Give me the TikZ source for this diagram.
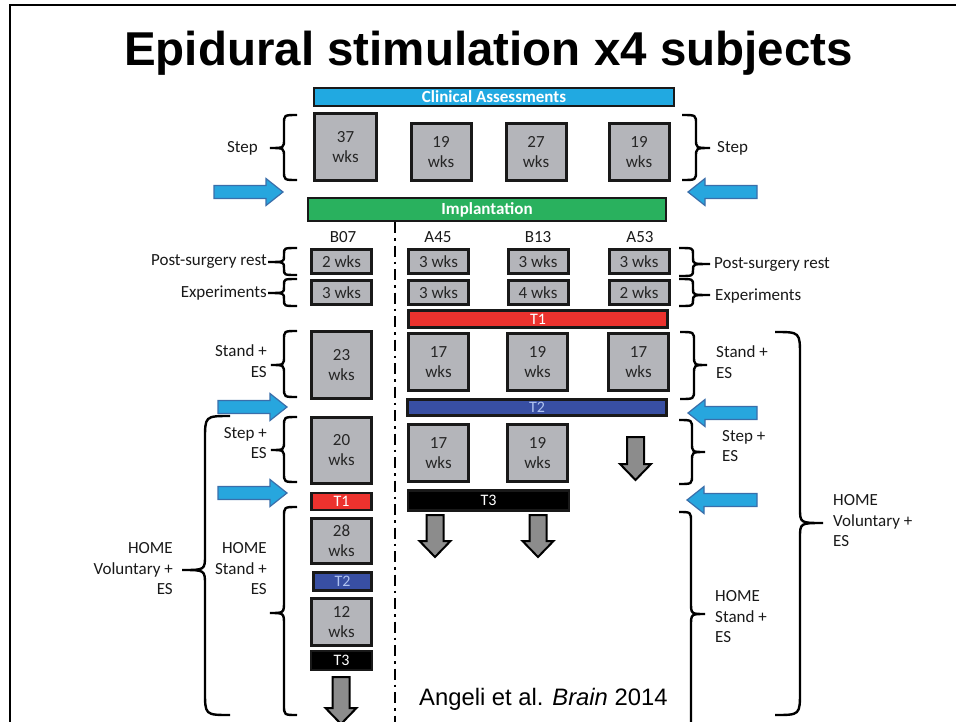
\documentclass[tikz,border=0pt]{standalone}
\usepackage{fontspec}
\setmainfont{Carlito}
\newfontfamily\titlefont{Liberation Sans}
\definecolor{cyanbar}{RGB}{33,169,225}
\definecolor{greenbar}{RGB}{41,177,94}
\definecolor{redbar}{RGB}{236,50,46}
\definecolor{bluebar}{RGB}{56,79,163}
\definecolor{boxgray}{RGB}{180,181,186}
\definecolor{arrfill}{RGB}{39,166,222}
\definecolor{arredge}{RGB}{58,110,170}
\definecolor{downgray}{RGB}{140,140,140}
\definecolor{tlight}{RGB}{175,195,240}
\newcommand{\mybrace}[8]{%
  \draw[bracestyle] (#1,#4) .. controls (#2,#4) .. (#2,{#4+#7}) -- (#2,{#5-#8})
    .. controls (#2,#5) .. (#3,#5) .. controls (#2,#5) .. (#2,{#5+#8})
    -- (#2,{#6-#7}) .. controls (#2,#6) .. (#1,#6);}
\newcommand{\bluer}[3]{%
  \draw[bluearrow] (#1,{#3-6.5}) -- ({#2-17},{#3-6.5}) -- ({#2-17},{#3-13.5}) -- (#2,#3)
    -- ({#2-17},{#3+13.5}) -- ({#2-17},{#3+6.5}) -- (#1,{#3+6.5}) -- cycle;}
\newcommand{\bluel}[3]{%
  \draw[bluearrow] (#2,{#3-6.5}) -- ({#1+17},{#3-6.5}) -- ({#1+17},{#3-13.5}) -- (#1,#3)
    -- ({#1+17},{#3+13.5}) -- ({#1+17},{#3+6.5}) -- (#2,{#3+6.5}) -- cycle;}
\newcommand{\grayd}[3]{%
  \draw[grayarrow] ({#1-8.5},#2) -- ({#1+8.5},#2) -- ({#1+8.5},{#3-16}) -- ({#1+15.5},{#3-16})
    -- (#1,#3) -- ({#1-15.5},{#3-16}) -- ({#1-8.5},{#3-16}) -- cycle;}
\begin{document}
\begin{tikzpicture}[x=1pt,y=-1pt,
  wk/.style={draw=black!90, line width=3pt, fill=boxgray, inner sep=0pt, align=center,
    minimum width=60, font=\fontsize{17}{20}\selectfont, text=black!85},
  bar/.style={draw=black!90, line width=2.2pt, inner sep=0pt, text=white,
    font=\fontsize{17}{18}\selectfont\bfseries},
  tbar/.style={draw=black!90, line width=2.2pt, inner sep=0pt,
    font=\fontsize{16}{18}\selectfont},
  lab/.style={inner sep=0pt, font=\fontsize{17}{20.5}\selectfont, text=black!90},
  bracestyle/.style={line width=2.4pt, black},
  bluearrow/.style={fill=arrfill, draw=arredge, line width=1.2pt, line join=miter},
  grayarrow/.style={fill=downgray, draw=black, line width=2pt, line join=miter}]
\useasboundingbox (0,0) rectangle (956,721);
% frame
\draw[line width=2pt] (10,730) -- (10,5) -- (960,5);
% title
\node[inner sep=0pt, anchor=base, font=\titlefont\fontsize{47.5}{50}\selectfont\bfseries] (title) at (488.5,65) {Epidural stimulation x4 subjects};
% bars
\node[bar, fill=cyanbar, minimum width=360, minimum height=18] (ca) at (494,97) {Clinical Assessments};
\node[bar, fill=greenbar, minimum width=358, minimum height=23] (imp) at (487,209.5) {Implantation};
% pre-implant step boxes
\node[wk, minimum width=62, minimum height=67] (s1) at (345.5,147) {37\\wks};
\node[wk, minimum height=57] (s2) at (441,152) {19\\wks};
\node[wk, minimum height=57] (s3) at (536,152) {27\\wks};
\node[wk, minimum height=57] (s4) at (639,152) {19\\wks};
% dash-dot separator
\coordinate (sepTop) at (395,222);
\coordinate (sepBot) at (395,725);
\draw[line width=2.5pt, dash pattern=on 11pt off 5pt on 2.5pt off 5pt] (sepTop) -- (sepBot);
% subject labels
\node[lab] (nB07) at (343,237) {B07};
\node[lab] (nA45) at (438,237) {A45};
\node[lab] (nB13) at (538,237) {B13};
\node[lab] (nA53) at (640,237) {A53};
% post-surgery rest
\node[wk, minimum height=24] (p1) at (341.5,261.5) {2 wks};
\node[wk, minimum height=24] (p2) at (438.5,261.5) {3 wks};
\node[wk, minimum height=24] (p3) at (538,261.5) {3 wks};
\node[wk, minimum height=24] (p4) at (639,261.5) {3 wks};
% experiments
\node[wk, minimum height=24] (e1) at (341.5,292.5) {3 wks};
\node[wk, minimum height=24] (e2) at (438.5,292.5) {3 wks};
\node[wk, minimum height=24] (e3) at (538,292.5) {4 wks};
\node[wk, minimum height=24] (e4) at (639,292.5) {2 wks};
% T1 bar
\node[tbar, fill=redbar, text=white, minimum width=259, minimum height=17] (t1a) at (538,319) {T1};
% stand boxes
\node[wk, minimum height=67] (st1) at (341.5,365) {23\\wks};
\node[wk, minimum height=57] (st2) at (438.5,362) {17\\wks};
\node[wk, minimum height=57] (st3) at (537.5,362) {19\\wks};
\node[wk, minimum height=57] (st4) at (638.5,362) {17\\wks};
% T2 bar
\node[tbar, fill=bluebar, text=tlight, minimum width=259, minimum height=16] (t2a) at (537,407.5) {T2};
% step boxes
\node[wk, minimum height=66] (sp1) at (341.5,450.5) {20\\wks};
\node[wk, minimum height=57] (sp2) at (438.5,453) {17\\wks};
\node[wk, minimum height=57] (sp3) at (537.5,453) {19\\wks};
\grayd{635.5}{437}{480}
% T1 B07, T3 bar
\node[tbar, fill=redbar, text=white, minimum width=60, minimum height=17] (t1b) at (341.5,501.5) {T1};
\node[tbar, fill=black, text=white, minimum width=161, minimum height=20] (t3a) at (488.5,500.5) {T3};
\grayd{435}{515}{557}
\grayd{538}{515}{557}
% B07 home
\node[wk, minimum height=45] (h1) at (341.5,541) {28\\wks};
\node[tbar, fill=bluebar, text=tlight, minimum width=58, minimum height=18] (t2b) at (342.5,581.5) {T2};
\node[wk, minimum height=47] (h2) at (341.5,622) {12\\wks};
\node[tbar, fill=black, text=white, minimum width=61, minimum height=19] (t3b) at (341.5,660.5) {T3};
\grayd{341}{677}{724}
% blue arrows
\bluer{214}{283}{192}
\bluel{688}{757}{192}
\bluer{218}{287}{407}
\bluel{688}{757}{413}
\bluer{218}{287}{493}
\bluel{687}{757}{500}
% left braces
\mybrace{297}{284}{270}{115}{148}{180}{9}{9}
\mybrace{297}{284}{268}{248}{262}{275}{6}{6}
\mybrace{297}{284}{268}{279}{293}{306}{6}{6}
\mybrace{297}{284}{271}{331}{365}{397}{9}{9}
\mybrace{297}{284}{271}{417}{450}{482}{9}{9}
\mybrace{297}{284}{270}{507}{613}{715}{10}{12}
\mybrace{230}{205}{182}{416}{570}{715}{24}{15}
% right braces
\mybrace{682}{696}{710}{115}{148}{180}{9}{9}
\mybrace{679}{693}{710}{248}{264}{276}{6}{6}
\mybrace{679}{693}{710}{279}{295}{306}{6}{6}
\mybrace{680}{694}{707}{332}{365}{399}{9}{9}
\mybrace{679}{692}{705}{420}{452}{484}{9}{9}
\mybrace{679}{691}{705}{512}{614}{760}{10}{12}
\mybrace{775}{800}{823}{332}{523}{715}{24}{15}
% left labels
\node[lab, anchor=east] (lStep) at (258,148) {Step};
\node[lab, anchor=east] (lPost) at (267,262) {Post-surgery rest};
\node[lab, anchor=east] (lExp) at (267,293) {Experiments};
\node[lab, anchor=east, align=right] (lStand) at (267,361) {Stand +\\ES};
\node[lab, anchor=east, align=right] (lStepES) at (267,443) {Step +\\ES};
\node[lab, anchor=east, align=right] (lHomeS) at (267,569) {HOME\\Stand +\\ES};
\node[lab, anchor=east, align=right] (lHomeV) at (173,569) {HOME\\Voluntary +\\ES};
% right labels
\node[lab, anchor=west] (rStep) at (717,148) {Step};
\node[lab, anchor=west] (rPost) at (714,265) {Post-surgery rest};
\node[lab, anchor=west] (rExp) at (715,296) {Experiments};
\node[lab, anchor=west, align=left] (rStand) at (716,362) {Stand +\\ES};
\node[lab, anchor=west, align=left] (rStepES) at (722,446) {Step +\\ES};
\node[lab, anchor=west, align=left] (rHomeS) at (715,617) {HOME\\Stand +\\ES};
\node[lab, anchor=west, align=left] (rHomeV) at (833,521) {HOME\\Voluntary +\\ES};
% citation
\node[inner sep=0pt, anchor=base west, font=\titlefont\fontsize{23.8}{26}\selectfont] (cite) at (419,705) {Angeli et al. \textit{Brain} 2014};
\end{tikzpicture}
\end{document}
